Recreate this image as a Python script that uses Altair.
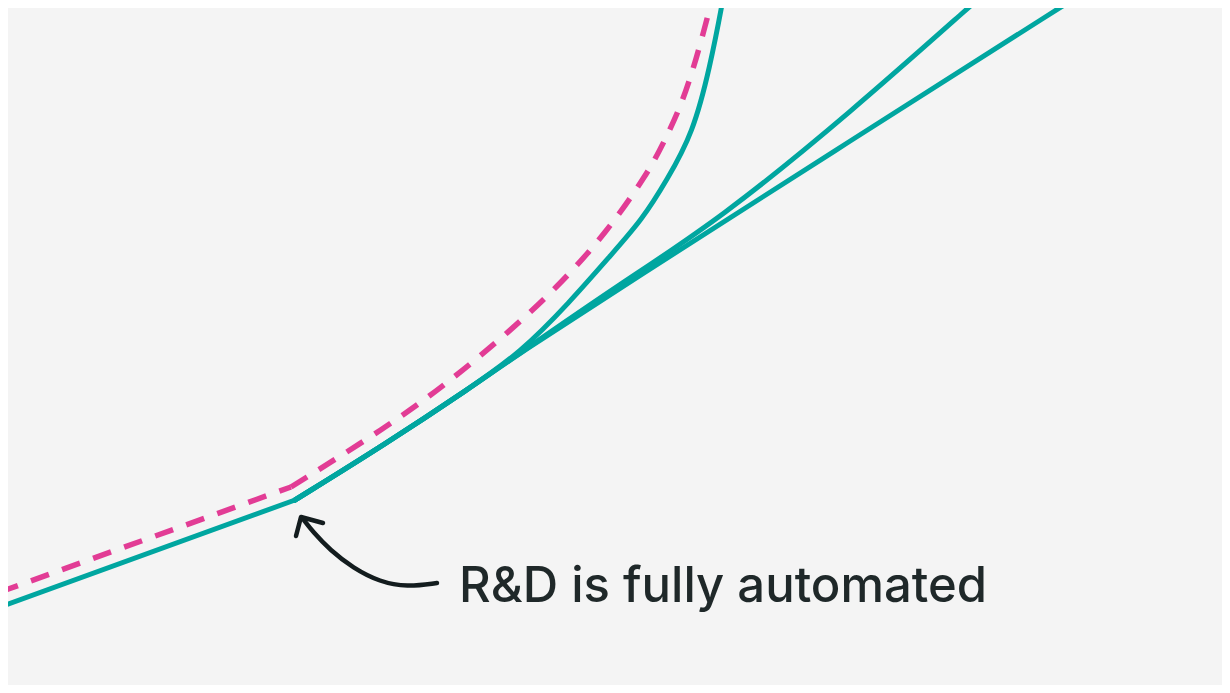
import altair as alt
import pandas as pd

# ---- data (picture units: x right, y down) ----
teal_pre_x = [0, 295]
teal_pre_y = [607, 500]

shared_x = [295, 387, 470, 520]
shared_y = [500, 443, 388, 353]

branch_b_x = [620, 850, 1072, 1110]
branch_b_y = [288, 141, 0, -24]

branch_a_x = [620, 720, 850, 977, 1000]
branch_a_y = [284, 219, 113, 0, -20]

branch_c_x = [570, 610, 642, 667, 693, 710, 723, 728]
branch_c_y = [302, 256, 220, 180, 133, 67, 0, -30]

pink_pre_x = [0, 291]
pink_pre_y = [592, 487]

pink_x = [291, 387, 445, 502, 557, 607, 648, 665, 680, 692, 702, 712, 716]
pink_y = [487, 427, 385, 338, 288, 232, 173, 140, 108, 73, 38, 0, -20]

arrow_x = [437, 407, 380, 353, 330, 313, 303]
arrow_y = [583, 587, 582, 568, 550, 532, 519]

head_x = [323, 301, 296]
head_y = [523, 517, 536]

label_text = "R&D is fully automated"
label_x = [459]
label_y = [587]

TEAL = "#00a6a0"
PINK = "#e23c95"
INK = "#131c1e"
BG = "#f4f4f4"

W, H = 1214, 677
xs = alt.Scale(domain=[8, 8 + W], nice=False, zero=False)
ys = alt.Scale(domain=[8, 8 + H], nice=False, zero=False, reverse=True)


def frame(xv, yv, series):
    return pd.DataFrame({"x": xv, "y": yv, "s": series, "o": list(range(len(xv)))})


teal_df = frame(teal_pre_x, teal_pre_y, "pre")
teal_curves = pd.concat([
    frame(shared_x + branch_b_x, shared_y + branch_b_y, "b"),
    frame(shared_x + branch_a_x, shared_y + branch_a_y, "a"),
    frame(shared_x + branch_c_x, shared_y + branch_c_y, "c"),
])
pink_pre = frame(pink_pre_x, pink_pre_y, "pp")
pink_curve = frame(pink_x, pink_y, "pc")
arrow_df = frame(arrow_x, arrow_y, "arrow")
head_df = frame(head_x, head_y, "head")
label_df = pd.DataFrame({"x": label_x, "y": label_y, "t": [label_text]})

X = alt.X("x:Q", scale=xs, axis=None)
Y = alt.Y("y:Q", scale=ys, axis=None)

teal_straight = alt.Chart(teal_df).mark_line(
    color=TEAL, strokeWidth=5, clip=True, strokeCap="round"
).encode(x=X, y=Y, detail="s:N", order="o:Q")

teal_curved = alt.Chart(teal_curves).mark_line(
    color=TEAL, strokeWidth=5, clip=True, interpolate="basis", strokeCap="round"
).encode(x=X, y=Y, detail="s:N", order="o:Q")

pink_straight = alt.Chart(pink_pre).mark_line(
    color=PINK, strokeWidth=5.5, clip=True, strokeDash=[19, 14]
).encode(x=X, y=Y, order="o:Q")

pink_curved = alt.Chart(pink_curve).mark_line(
    color=PINK, strokeWidth=5.5, clip=True, strokeDash=[19, 14], interpolate="basis"
).encode(x=X, y=Y, order="o:Q")

arrow = alt.Chart(arrow_df).mark_line(
    color=INK, strokeWidth=4.5, strokeCap="round", interpolate="basis"
).encode(x=X, y=Y, order="o:Q")

head = alt.Chart(head_df).mark_line(
    color=INK, strokeWidth=4.5, strokeCap="round", strokeJoin="round"
).encode(x=X, y=Y, order="o:Q")

label = alt.Chart(label_df).mark_text(
    align="left", baseline="middle", font="Inter", fontSize=49, fontWeight=500,
    color="#1f2829"
).encode(x=X, y=Y, text="t:N")

chart = alt.layer(
    pink_straight, pink_curved, teal_straight, teal_curved, arrow, head, label
).properties(
    width=W, height=H, background=BG, padding=0,
    autosize=alt.AutoSizeParams(type="none"),
).configure_view(stroke=None, fill=BG)

chart.save("out.html", embed_options={"renderer": "svg", "actions": False})
